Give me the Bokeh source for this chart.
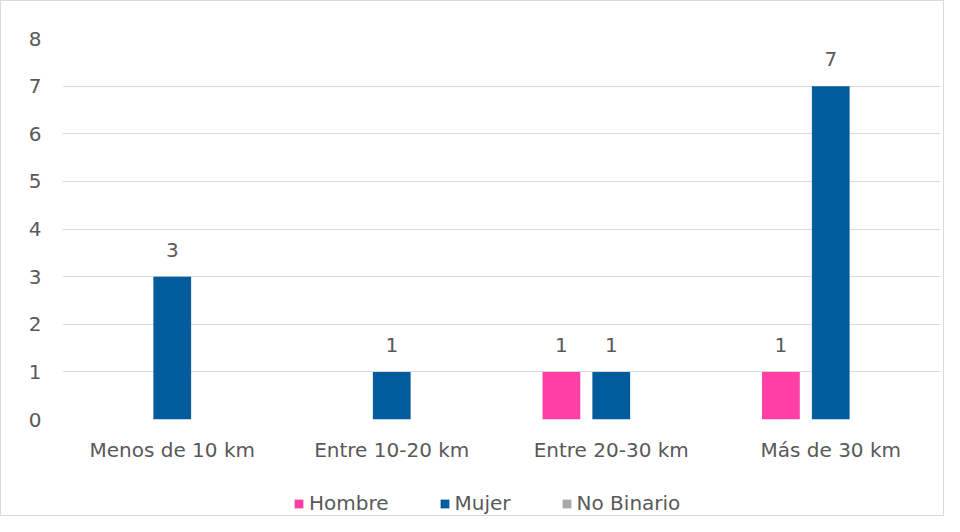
from bokeh.plotting import figure
from bokeh.layouts import column
from bokeh.models import ColumnDataSource, FactorRange, Legend, LegendItem, Range1d, FixedTicker
from bokeh.transform import dodge
from bokeh.embed import file_html
from bokeh.resources import INLINE
from bokeh.core.properties import value

categories = ["Menos de 10 km", "Entre 10-20 km", "Entre 20-30 km", "Más de 30 km"]
series_names = ["Hombre", "Mujer", "No Binario"]
hombre = [0, 0, 1, 1]
mujer = [3, 1, 1, 7]
no_binario = [0, 0, 0, 0]
y_ticks = [0, 1, 2, 3, 4, 5, 6, 7, 8]

colors = ["#FF3FA4", "#005C9C", "#A8A8A8"]
offsets = [-0.227, 0.0, 0.227]
bar_width = 0.172
FONT = "DejaVu Sans"
TXT = "#595959"
FS = "20px"

series_values = [hombre, mujer, no_binario]
data = {"cat": categories}
for name, vals in zip(series_names, series_values):
    data[name] = vals
source = ColumnDataSource(data)

p = figure(
    x_range=FactorRange(*categories, range_padding=0),
    y_range=Range1d(0, 8),
    width=942, height=463,
    output_backend="svg", toolbar_location=None,
    min_border_left=61, min_border_right=3, min_border_top=37, min_border_bottom=45,
)
p.outline_line_color = None
p.background_fill_color = "white"
p.border_fill_color = "white"

for name, off, col, vals in zip(series_names, offsets, colors, series_values):
    p.vbar(x=dodge("cat", off, range=p.x_range), top=name, width=bar_width,
           source=source, fill_color=col, line_color=None)
    lab_cats = [c for c, v in zip(categories, vals) if v != 0]
    lab_vals = [v for v in vals if v != 0]
    lsrc = ColumnDataSource(dict(cat=lab_cats, val=lab_vals, txt=[str(v) for v in lab_vals]))
    p.text(x=dodge("cat", off, range=p.x_range), y="val", text="txt", source=lsrc,
           text_align="center", text_baseline="alphabetic", y_offset=-27,
           text_font=value(FONT), text_font_size=FS, text_color=TXT)

p.yaxis.ticker = FixedTicker(ticks=y_ticks)
p.xgrid.grid_line_color = None
p.ygrid.grid_line_color = "#D9D9D9"
p.ygrid.grid_line_width = 1

for ax in (p.xaxis[0], p.yaxis[0]):
    ax.axis_line_color = None
    ax.major_tick_line_color = None
    ax.minor_tick_line_color = None
    ax.major_tick_out = 0
    ax.major_tick_in = 0
    ax.minor_tick_out = 0
    ax.major_label_text_font = FONT
    ax.major_label_text_font_size = FS
    ax.major_label_text_color = TXT
p.xaxis.major_label_standoff = 18
p.yaxis.major_label_standoff = 21

# legend strip below the chart (series proxies with zero width, out of view: only the legend shows)
lf = figure(
    width=942, height=51, x_range=p.x_range, y_range=Range1d(-2, -1),
    output_backend="svg", toolbar_location=None,
    x_axis_location=None, y_axis_location=None,
    min_border_left=0, min_border_right=0, min_border_top=0, min_border_bottom=0,
)
lf.outline_line_color = None
lf.xgrid.visible = False
lf.ygrid.visible = False
lf.border_fill_color = "white"
lf.background_fill_color = "white"

legend_renderers = [lf.vbar(x=dodge("cat", off, range=lf.x_range), top=name, width=0,
                            source=source, fill_color=c, line_color=None)
                    for name, off, c in zip(series_names, offsets, colors)]
legend = Legend(
    items=[LegendItem(label=n, renderers=[r]) for n, r in zip(series_names, legend_renderers)],
    orientation="horizontal", location=(231, 0),
    label_text_font=FONT, label_text_font_size=FS, label_text_color=TXT,
    glyph_width=11, glyph_height=11, label_standoff=5, spacing=50,
    padding=0, margin=0, border_line_color=None, background_fill_alpha=0,
)
lf.add_layout(legend, "center")

layout = column(p, lf, spacing=0)
layout.styles = {"border": "1px solid #D9D9D9"}

open("out.html", "w").write(file_html(layout, INLINE))
